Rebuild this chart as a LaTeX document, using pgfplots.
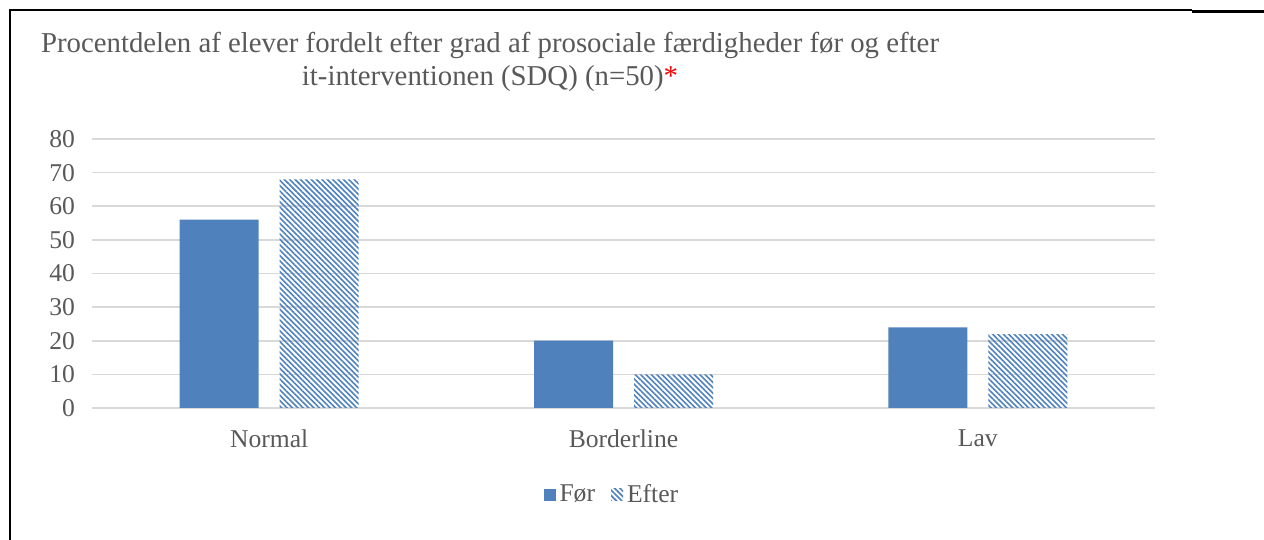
\documentclass[border=0pt]{standalone}
\usepackage{fontspec}
\setmainfont{Liberation Serif}
\usepackage{pgfplots}
\pgfplotsset{compat=1.18}
\usetikzlibrary{patterns.meta}
\definecolor{barblue}{HTML}{4F81BD}
\definecolor{txtgray}{HTML}{595959}
\definecolor{gridgray}{HTML}{D9D9D9}
\begin{document}
\begin{tikzpicture}
\useasboundingbox (0,0) rectangle (632pt,270pt);
% frame
\draw[black, line width=0.8pt] (4.5pt,265pt) -- (596pt,265pt);
\draw[black, line width=1.4pt] (596pt,264.3pt) -- (632pt,264.3pt);
\draw[black, line width=1.1pt] (4.8pt,265.4pt) -- (4.8pt,0pt);
% title
\node[align=center, text=txtgray, font=\fontsize{14.4}{16.5}\selectfont] at (245pt,239pt)
  {Procentdelen af elever fordelt efter grad af prosociale færdigheder før og efter\\
   it-interventionen (SDQ) (n=50)\textcolor{red}{*}};
\begin{axis}[
  at={(46pt,66pt)}, anchor=south west,
  scale only axis, width=531.5pt, height=134.5pt,
  ybar=10.5pt, bar width=39.5pt,
  xmin=-0.5, xmax=2.5, ymin=0, ymax=80,
  xtick={0,1,2}, xticklabels={Normal,Borderline,Lav},
  ytick={0,10,...,80},
  axis line style={draw=none},
  major tick length=0pt,
  ymajorgrids, grid style={gridgray, line width=0.8pt},
  /pgf/number format/assume math mode=true,
  tick label style={text=txtgray, font=\fontsize{12.8}{14}\selectfont},
  yticklabel style={xshift=-5pt},
  xticklabel style={yshift=-7.5pt},
  legend style={at={(0.49,-0.323)}, anchor=center, draw=none,
    legend columns=-1, text=txtgray, font=\fontsize{12.8}{14}\selectfont,
    /tikz/every even column/.append style={column sep=6pt}},
  legend image code/.code={\path[#1,draw=none] (0pt,-3pt) rectangle (6pt,3pt);},
]
\addplot[fill=barblue, draw=none] coordinates {(0,56) (1,20) (2,24)};
\addplot[draw=none, pattern={Lines[angle=-45,distance=1.9pt,line width=0.8pt]}, pattern color=barblue] coordinates {(0,68) (1,10) (2,22)};
\legend{Før, Efter}
\end{axis}
\end{tikzpicture}
\end{document}
